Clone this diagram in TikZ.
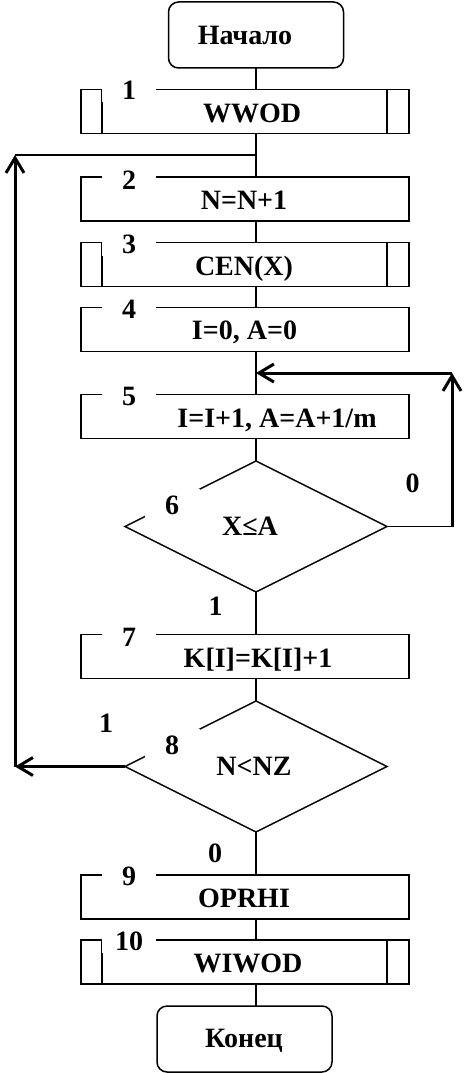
\documentclass[tikz,border=0pt]{standalone}
\usepackage{fontspec}
\setmainfont{Liberation Serif}
\usetikzlibrary{shapes.geometric,arrows.meta}
\begin{document}
\begin{tikzpicture}[x=1pt,y=-1pt,
  txt/.style={font=\fontsize{28}{30}\selectfont\bfseries,inner sep=0pt,anchor=base},
  procbox/.style={draw,line width=1.5pt,minimum width=328pt,minimum height=44pt,inner sep=0pt,outer sep=0pt},
  termbox/.style={draw,line width=1.5pt,rounded corners=10pt,minimum width=175pt,minimum height=66pt,inner sep=0pt,outer sep=0pt},
  decbox/.style={draw,diamond,line width=1.5pt,minimum width=262pt,minimum height=131pt,inner sep=0pt,outer sep=0pt,aspect=2},
  numlab/.style={font=\fontsize{28}{30}\selectfont\bfseries,fill=white,inner sep=0pt,minimum width=54pt,minimum height=24pt},
  declab/.style={numlab,minimum width=55pt,minimum height=32pt},
  branch/.style={font=\fontsize{28}{30}\selectfont\bfseries,inner sep=0pt},
  conn/.style={line width=1.3pt},
  loopline/.style={line width=3pt},
  barb/.tip={Straight Barb[length=15pt,width=18pt]}
]
\useasboundingbox (0,0) rectangle (466,1073);
\coordinate (axis) at (256,0);

% terminals
\node[termbox] (start) at (256,35) {};
\node[txt] (tstart) at (245,45) {Начало};
\node[termbox] (end) at (244.5,1039) {};
\node[txt] (tend) at (244,1047) {Конец};

% process boxes
\node[procbox] (b1) at (245,111.5) {};
\node[procbox] (b2) at (245,199) {};
\node[procbox] (b3) at (245,264.5) {};
\node[procbox] (b4) at (245,329.5) {};
\node[procbox] (b5) at (245,416.5) {};
\node[procbox] (b7) at (245,656.5) {};
\node[procbox] (b9) at (245,897) {};
\node[procbox] (b10) at (245,962) {};

% predefined process side bars
\foreach \b in {b1,b3,b10}{
  \draw[line width=1.5pt] ([xshift=21pt]\b.north west) -- ([xshift=21pt]\b.south west);
  \draw[line width=1.5pt] ([xshift=-22pt]\b.north east) -- ([xshift=-22pt]\b.south east);
}

% decisions
\node[decbox] (d6) at (256,526.5) {};
\node[decbox] (d8) at (256,766.5) {};

% texts
\node[txt] (t1) at (252,122) {WWOD};
\node[txt] (t2) at (244,209) {N=N+1};
\node[txt] (t3) at (244,275) {CEN(X)};
\node[txt] (t4) at (244.5,339) {I=0, A=0};
\node[txt] (t5) at (277,427) {I=I+1, A=A+1/m};
\node[txt] (t6) at (250,535) {X≤A};
\node[txt] (t7) at (258,667) {K[I]=K[I]+1};
\node[txt] (t8) at (254,775) {N<NZ};
\node[txt] (t9) at (244,907) {OPRHI};
\node[txt] (t10) at (248,972) {WIWOD};

% block numbers
\node[numlab] (n1) at (129,90) {1};
\node[numlab] (n2) at (129,180) {2};
\node[numlab] (n3) at (129,244) {3};
\node[numlab] (n4) at (129,309) {4};
\node[numlab] (n5) at (129,396) {5};
\node[declab] (n6) at (172,505) {6};
\node[numlab] (n7) at (129,637) {7};
\node[declab] (n8) at (172,745) {8};
\node[numlab] (n9) at (129,876) {9};
\node[numlab] (n10) at (129,941) {10};

% branch labels
\node[branch] (z6) at (412.5,483.5) {0};
\node[branch] (o6) at (215.5,606.5) {1};
\node[branch] (o8) at (106,723.5) {1};
\node[branch] (z8) at (215,853) {0};

% main flow
\draw[conn] (start.south) -- (axis |- b1.north);
\draw[conn] (axis |- b1.south) -- (axis |- b2.north);
\draw[conn] (axis |- b2.south) -- (axis |- b3.north);
\draw[conn] (axis |- b3.south) -- (axis |- b4.north);
\draw[conn] (axis |- b4.south) -- (axis |- b5.north);
\draw[conn] (axis |- b5.south) -- (d6.north);
\draw[conn] (d6.south) -- (axis |- b7.north);
\draw[conn] (axis |- b7.south) -- (d8.north);
\draw[conn] (d8.south) -- (axis |- b9.north);
\draw[conn] (axis |- b9.south) -- (axis |- b10.north);
\draw[conn] (axis |- b10.south) -- (axis |- end.north);

% outer loop (block 8 -> before block 2)
\coordinate (L8) at (15,766.5);
\coordinate (L2) at (15,155);
\coordinate (J2) at (256,155);
\draw[loopline,-barb] (d8.west) -- (L8);
\draw[loopline,-barb] (L8) -- (L2);
\draw[conn] (L2) -- (J2);

% inner loop (block 6 -> before block 5)
\coordinate (R6) at (452,526.5);
\coordinate (R4) at (452,373);
\coordinate (J4) at (256,373);
\draw[conn] (d6.east) -- (R6);
\draw[loopline,-barb] (R6) -- (R4);
\draw[loopline,-barb] (R4) -- (J4);
\end{tikzpicture}
\end{document}
